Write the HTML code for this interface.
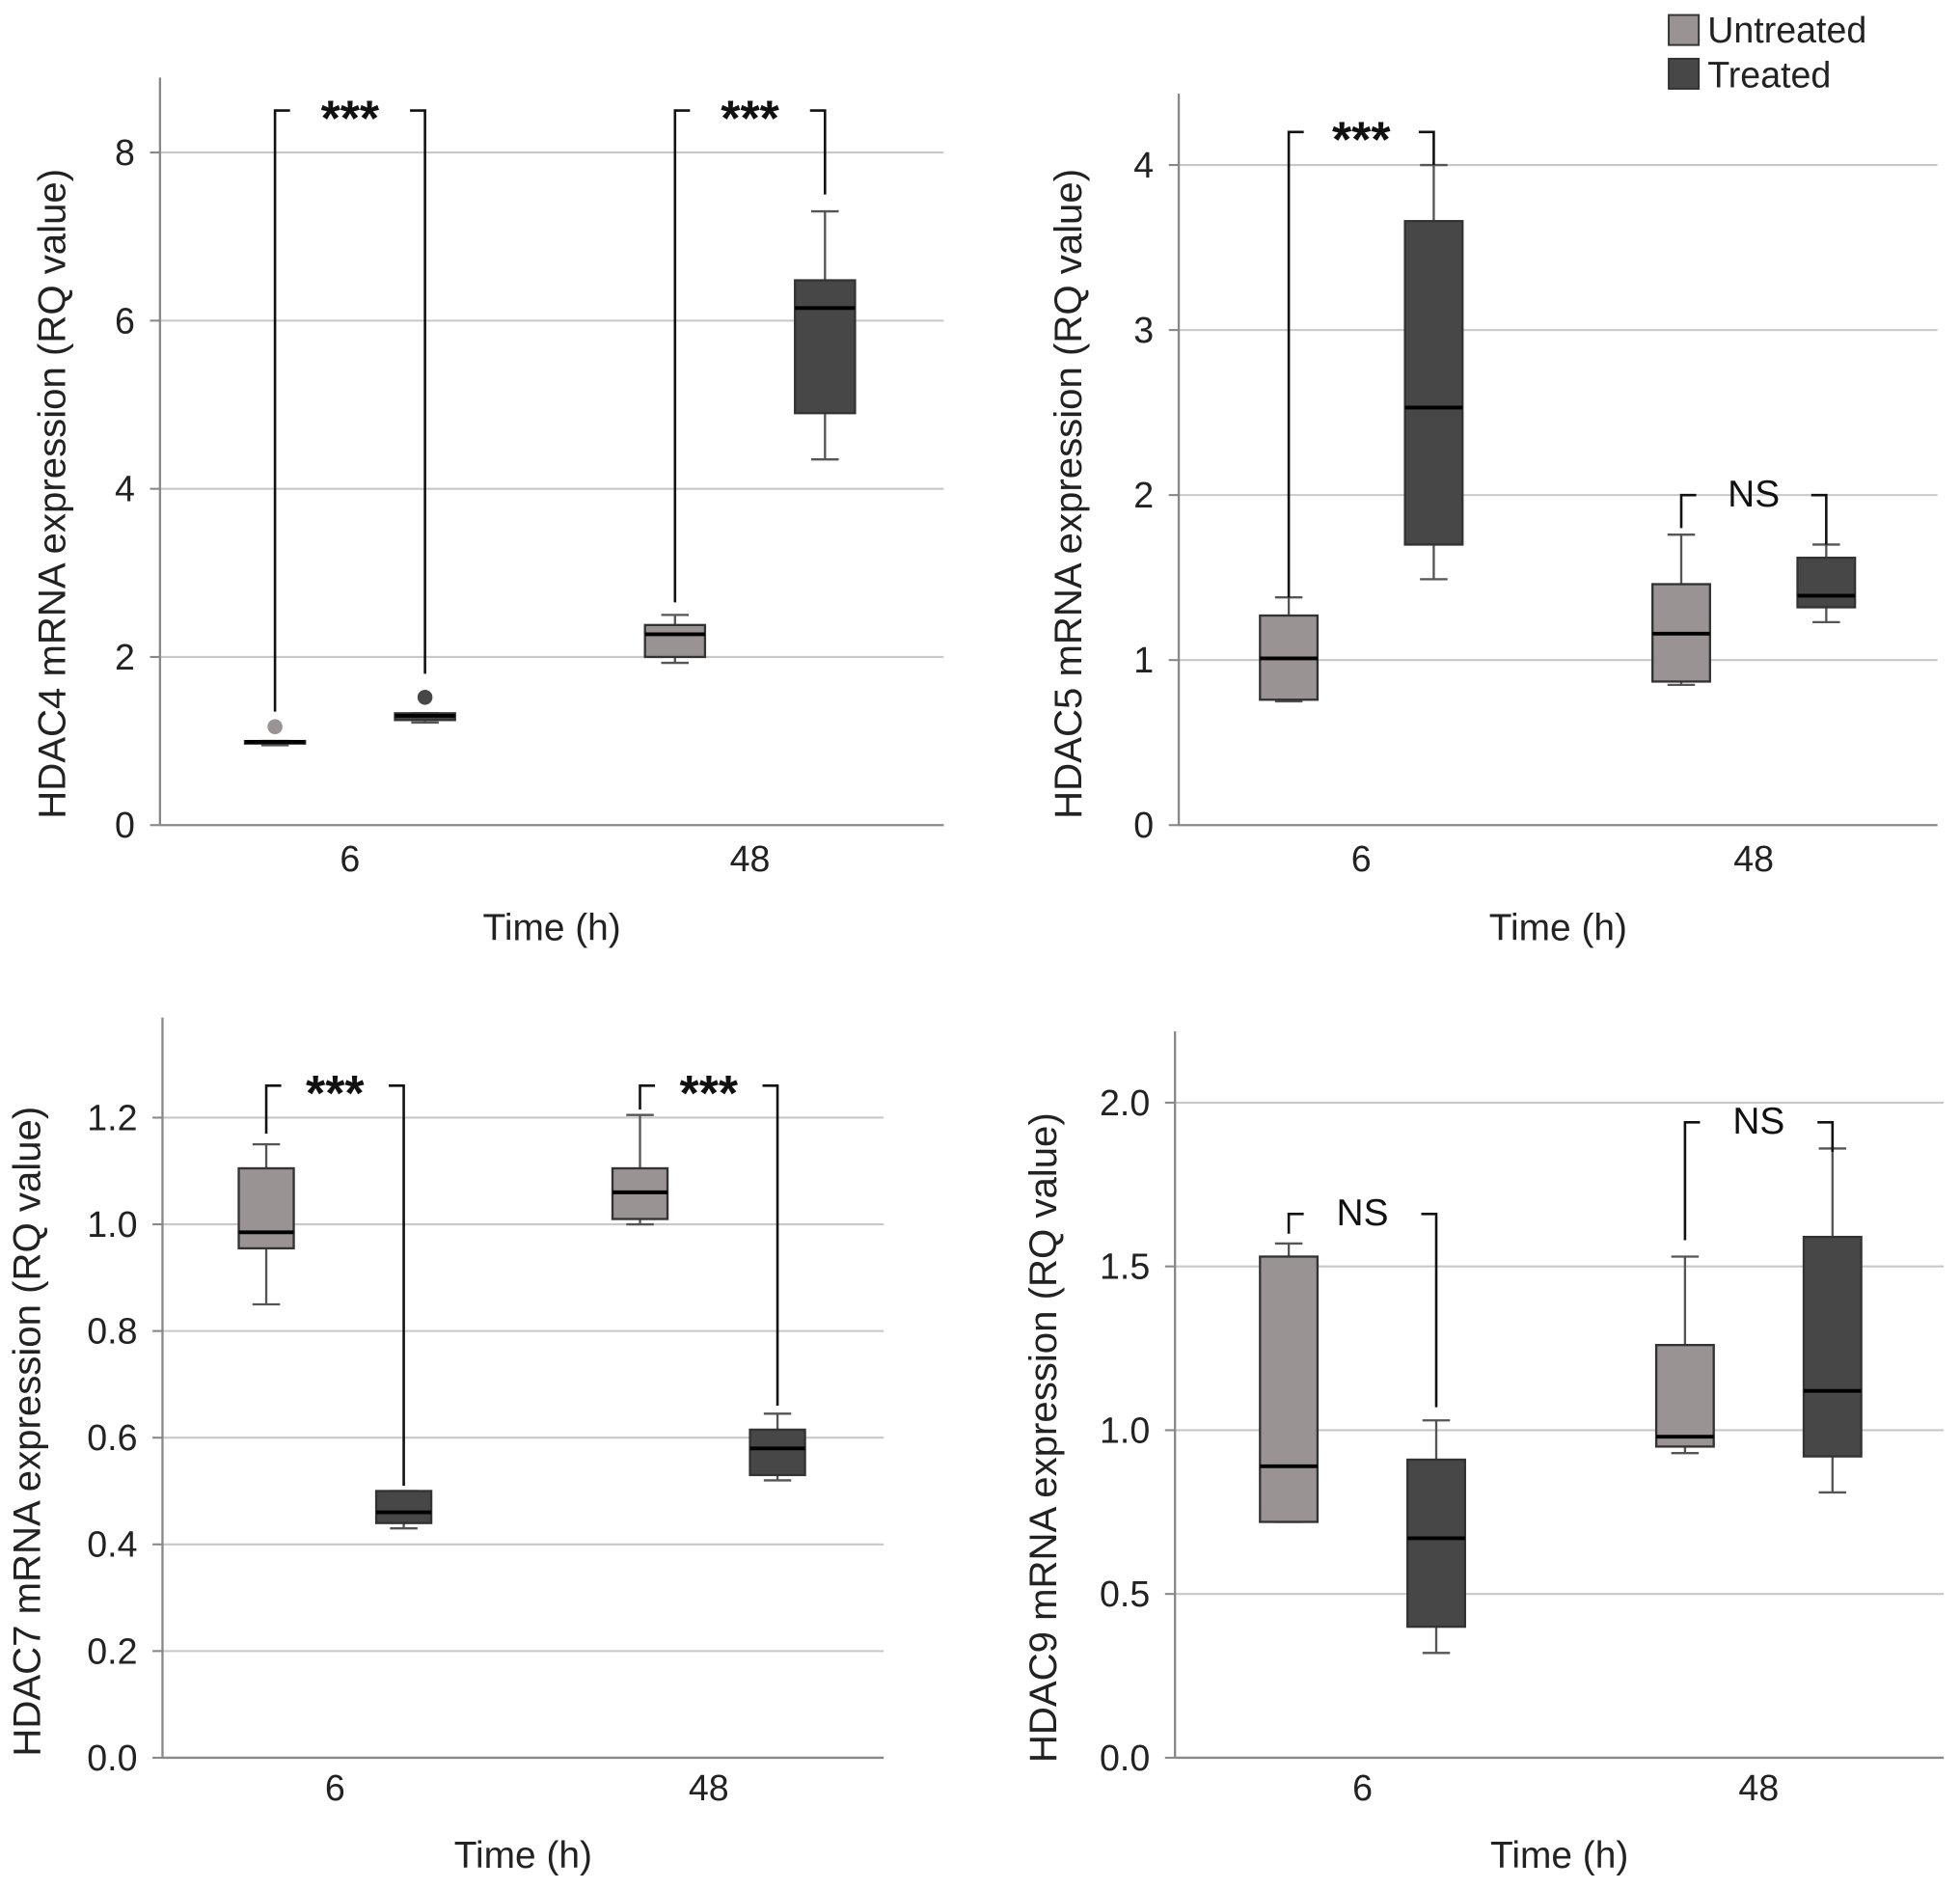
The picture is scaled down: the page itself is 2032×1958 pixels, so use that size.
<!DOCTYPE html>
<html><head><meta charset="utf-8"><style>
html,body{margin:0;padding:0;background:#fff}
svg{display:block;font-family:"Liberation Sans",Arial,sans-serif}
</style></head><body>
<svg id="chart" width="2032" height="1958" viewBox="0 0 1568 1511" preserveAspectRatio="none" xmlns="http://www.w3.org/2000/svg">
<g>
<rect x="1335" y="12" width="24" height="24" fill="#9a9394" stroke="#333" stroke-width="1.5"/>
<text x="1366" y="34" font-size="29" fill="#222">Untreated</text>
<rect x="1335" y="47" width="24" height="24" fill="#474747" stroke="#333" stroke-width="1.5"/>
<text x="1366" y="70" font-size="29" fill="#222">Treated</text>
</g>
</svg>
<script>
// Categories and series
const categories = ["6", "48"];
const groups = ["Untreated", "Treated"];
const panelGenes = ["HDAC4", "HDAC5", "HDAC7", "HDAC9"];
// [whiskerLow, q1, median, q3, whiskerHigh] per panel, category, group
const hdac4Untreated = [[0.95, 0.97, 0.99, 1.0, 1.0], [1.93, 2.0, 2.27, 2.38, 2.5]];
const hdac4Treated = [[1.22, 1.25, 1.3, 1.33, 1.33], [4.35, 4.9, 6.15, 6.48, 7.3]];
const hdac4Outliers = [[1.17, 1.52], [null, null]];
const hdac5Untreated = [[0.75, 0.76, 1.01, 1.27, 1.38], [0.85, 0.87, 1.16, 1.46, 1.76]];
const hdac5Treated = [[1.49, 1.7, 2.53, 3.66, 4.0], [1.23, 1.32, 1.39, 1.62, 1.7]];
const hdac7Untreated = [[0.85, 0.955, 0.985, 1.105, 1.15], [1.0, 1.01, 1.06, 1.105, 1.205]];
const hdac7Treated = [[0.43, 0.44, 0.46, 0.5, 0.5], [0.52, 0.53, 0.58, 0.615, 0.645]];
const hdac9Untreated = [[0.72, 0.72, 0.89, 1.53, 1.57], [0.93, 0.95, 0.98, 1.26, 1.53]];
const hdac9Treated = [[0.32, 0.4, 0.67, 0.91, 1.03], [0.81, 0.92, 1.12, 1.59, 1.86]];
// y ticks
const ticks4 = [0, 2, 4, 6, 8];
const ticks5 = [0, 1, 2, 3, 4];
const ticks7 = [0, 0.2, 0.4, 0.6, 0.8, 1.0, 1.2];
const ticks9 = [0, 0.5, 1.0, 1.5, 2.0];
// significance brackets: [barValue, leftEnd, rightEnd, label]
const sig4 = [[8.5, 1.35, 1.8, "***"], [8.5, 2.65, 7.5, "***"]];
const sig5 = [[4.2, 1.38, 4.0, "***"], [2.0, 1.8, 1.7, "NS"]];
const sig7 = [[1.26, 1.17, 0.51, "***"], [1.26, 1.215, 0.66, "***"]];
const sig9 = [[1.66, 1.6, 1.07, "NS"], [1.94, 1.58, 1.85, "NS"]];

const NS = "http://www.w3.org/2000/svg";
const svg = document.getElementById("chart");
function mk(tag, attrs, parent, text){
  const e = document.createElementNS(NS, tag);
  for (const k in attrs) e.setAttribute(k, attrs[k]);
  if (text !== undefined) e.textContent = text;
  parent.appendChild(e);
  return e;
}
const panels = [
  {gene:0, ax:128, top:62, base:660, right:755, ticks:ticks4, dec:0, cx:[280,600], off:[-60,60], bw:48, U:hdac4Untreated, T:hdac4Treated, out:hdac4Outliers, sig:sig4, tx:52, ty:395, catY:697, timeY:752},
  {gene:1, ax:943, top:75, base:660, right:1550, ticks:ticks5, dec:0, cx:[1089,1403], off:[-58,58], bw:46, U:hdac5Untreated, T:hdac5Treated, out:null, sig:sig5, tx:865, ty:395, catY:697, timeY:752},
  {gene:2, ax:130, top:814, base:1406, right:707, ticks:ticks7, dec:1, cx:[268,567], off:[-55,55], bw:44, U:hdac7Untreated, T:hdac7Treated, out:null, sig:sig7, tx:32, ty:1145, catY:1440, timeY:1494},
  {gene:3, ax:940, top:825, base:1406, right:1555, ticks:ticks9, dec:1, cx:[1090,1407], off:[-59,59], bw:46, U:hdac9Untreated, T:hdac9Treated, out:null, sig:sig9, tx:845, ty:1150, catY:1440, timeY:1494}
];
const tickTopPx = {0:122, 1:132, 2:894, 3:882};
panels.forEach((p, pi) => {
  const g = mk("g", {}, svg);
  
  
  const topTick = p.ticks[p.ticks.length-1];
  const y = v => p.base - (v / topTick) * (p.base - tickTopPx[pi]);
  p.ticks.forEach(t => {
    if (t > 0) {
      const gl = mk("line", {x1:p.ax, x2:p.right, y1:y(t), y2:y(t), stroke:"#c8c8c8", "stroke-width":1.6}, g);
      
      
    }
    mk("line", {x1:p.ax-8, x2:p.ax, y1:y(t), y2:y(t), stroke:"#888", "stroke-width":1.6}, g);
    const tl = mk("text", {x:p.ax-20, y:y(t)+10, "font-size":29, "text-anchor":"end", fill:"#222"}, g, t.toFixed(p.dec));
    
    
  });
  const axY = mk("line", {x1:p.ax, x2:p.ax, y1:p.top, y2:p.base, stroke:"#888", "stroke-width":1.8}, g);
  
  
  const axX = mk("line", {x1:p.ax, x2:p.right, y1:p.base, y2:p.base, stroke:"#888", "stroke-width":1.8}, g);
  
  
  const yt = mk("text", {x:p.tx, y:p.ty, "font-size":31, "text-anchor":"middle", fill:"#222", transform:`rotate(-90 ${p.tx} ${p.ty})`}, g, panelGenes[p.gene] + " mRNA expression (RQ value)");
  
  
  const xt = mk("text", {x:(p.ax+p.right)/2, y:p.timeY, "font-size":30, "text-anchor":"middle", fill:"#222"}, g, "Time (h)");
  
  
  categories.forEach((c, ci) => {
    const cl = mk("text", {x:p.cx[ci], y:p.catY, "font-size":29, "text-anchor":"middle", fill:"#222"}, g, c);
    
    
    [p.U, p.T].forEach((ser, si) => {
      const d = ser[ci];
      const x = p.cx[ci] + p.off[si];
      const bg = mk("g", {}, g);
      
      
      const hw = p.bw/2, cap = 11;
      mk("line", {x1:x, x2:x, y1:y(d[0]), y2:y(d[1]), stroke:"#555", "stroke-width":1.8}, bg);
      mk("line", {x1:x, x2:x, y1:y(d[3]), y2:y(d[4]), stroke:"#555", "stroke-width":1.8}, bg);
      mk("line", {x1:x-cap, x2:x+cap, y1:y(d[0]), y2:y(d[0]), stroke:"#555", "stroke-width":1.8}, bg);
      mk("line", {x1:x-cap, x2:x+cap, y1:y(d[4]), y2:y(d[4]), stroke:"#555", "stroke-width":1.8}, bg);
      mk("rect", {x:x-hw, y:y(d[3]), width:p.bw, height:Math.max(2, y(d[1])-y(d[3])), fill: si===0?"#9a9394":"#474747", stroke:"#333", "stroke-width":1.8}, bg);
      mk("line", {x1:x-hw, x2:x+hw, y1:y(d[2]), y2:y(d[2]), stroke:"#000", "stroke-width":3}, bg);
      if (p.out && p.out[ci][si] != null) {
        const o = mk("circle", {cx:x, cy:y(p.out[ci][si]), r:6, fill: si===0?"#9a9394":"#474747"}, bg);
        
        
      }
    });
    const s = p.sig[ci];
    const xl = p.cx[ci] + p.off[0], xr = p.cx[ci] + p.off[1];
    const yb = y(s[0]);
    const sg = mk("g", {}, g);
    
    
    const mid = (xl + xr) / 2;
    mk("path", {d:`M${xl},${y(s[1])} V${yb} H${xl+12} M${xr-12},${yb} H${xr} V${y(s[2])}`, fill:"none", stroke:"#111", "stroke-width":2}, sg);
    const st = mk("text", {x:mid, y: s[3]==="NS" ? yb+9 : yb+20, "font-size": s[3]==="NS"?30:40, "font-weight": s[3]==="NS"?"normal":"bold", "text-anchor":"middle", fill:"#111"}, sg, s[3]);
    
    
  });
});
</script>
</body></html>
